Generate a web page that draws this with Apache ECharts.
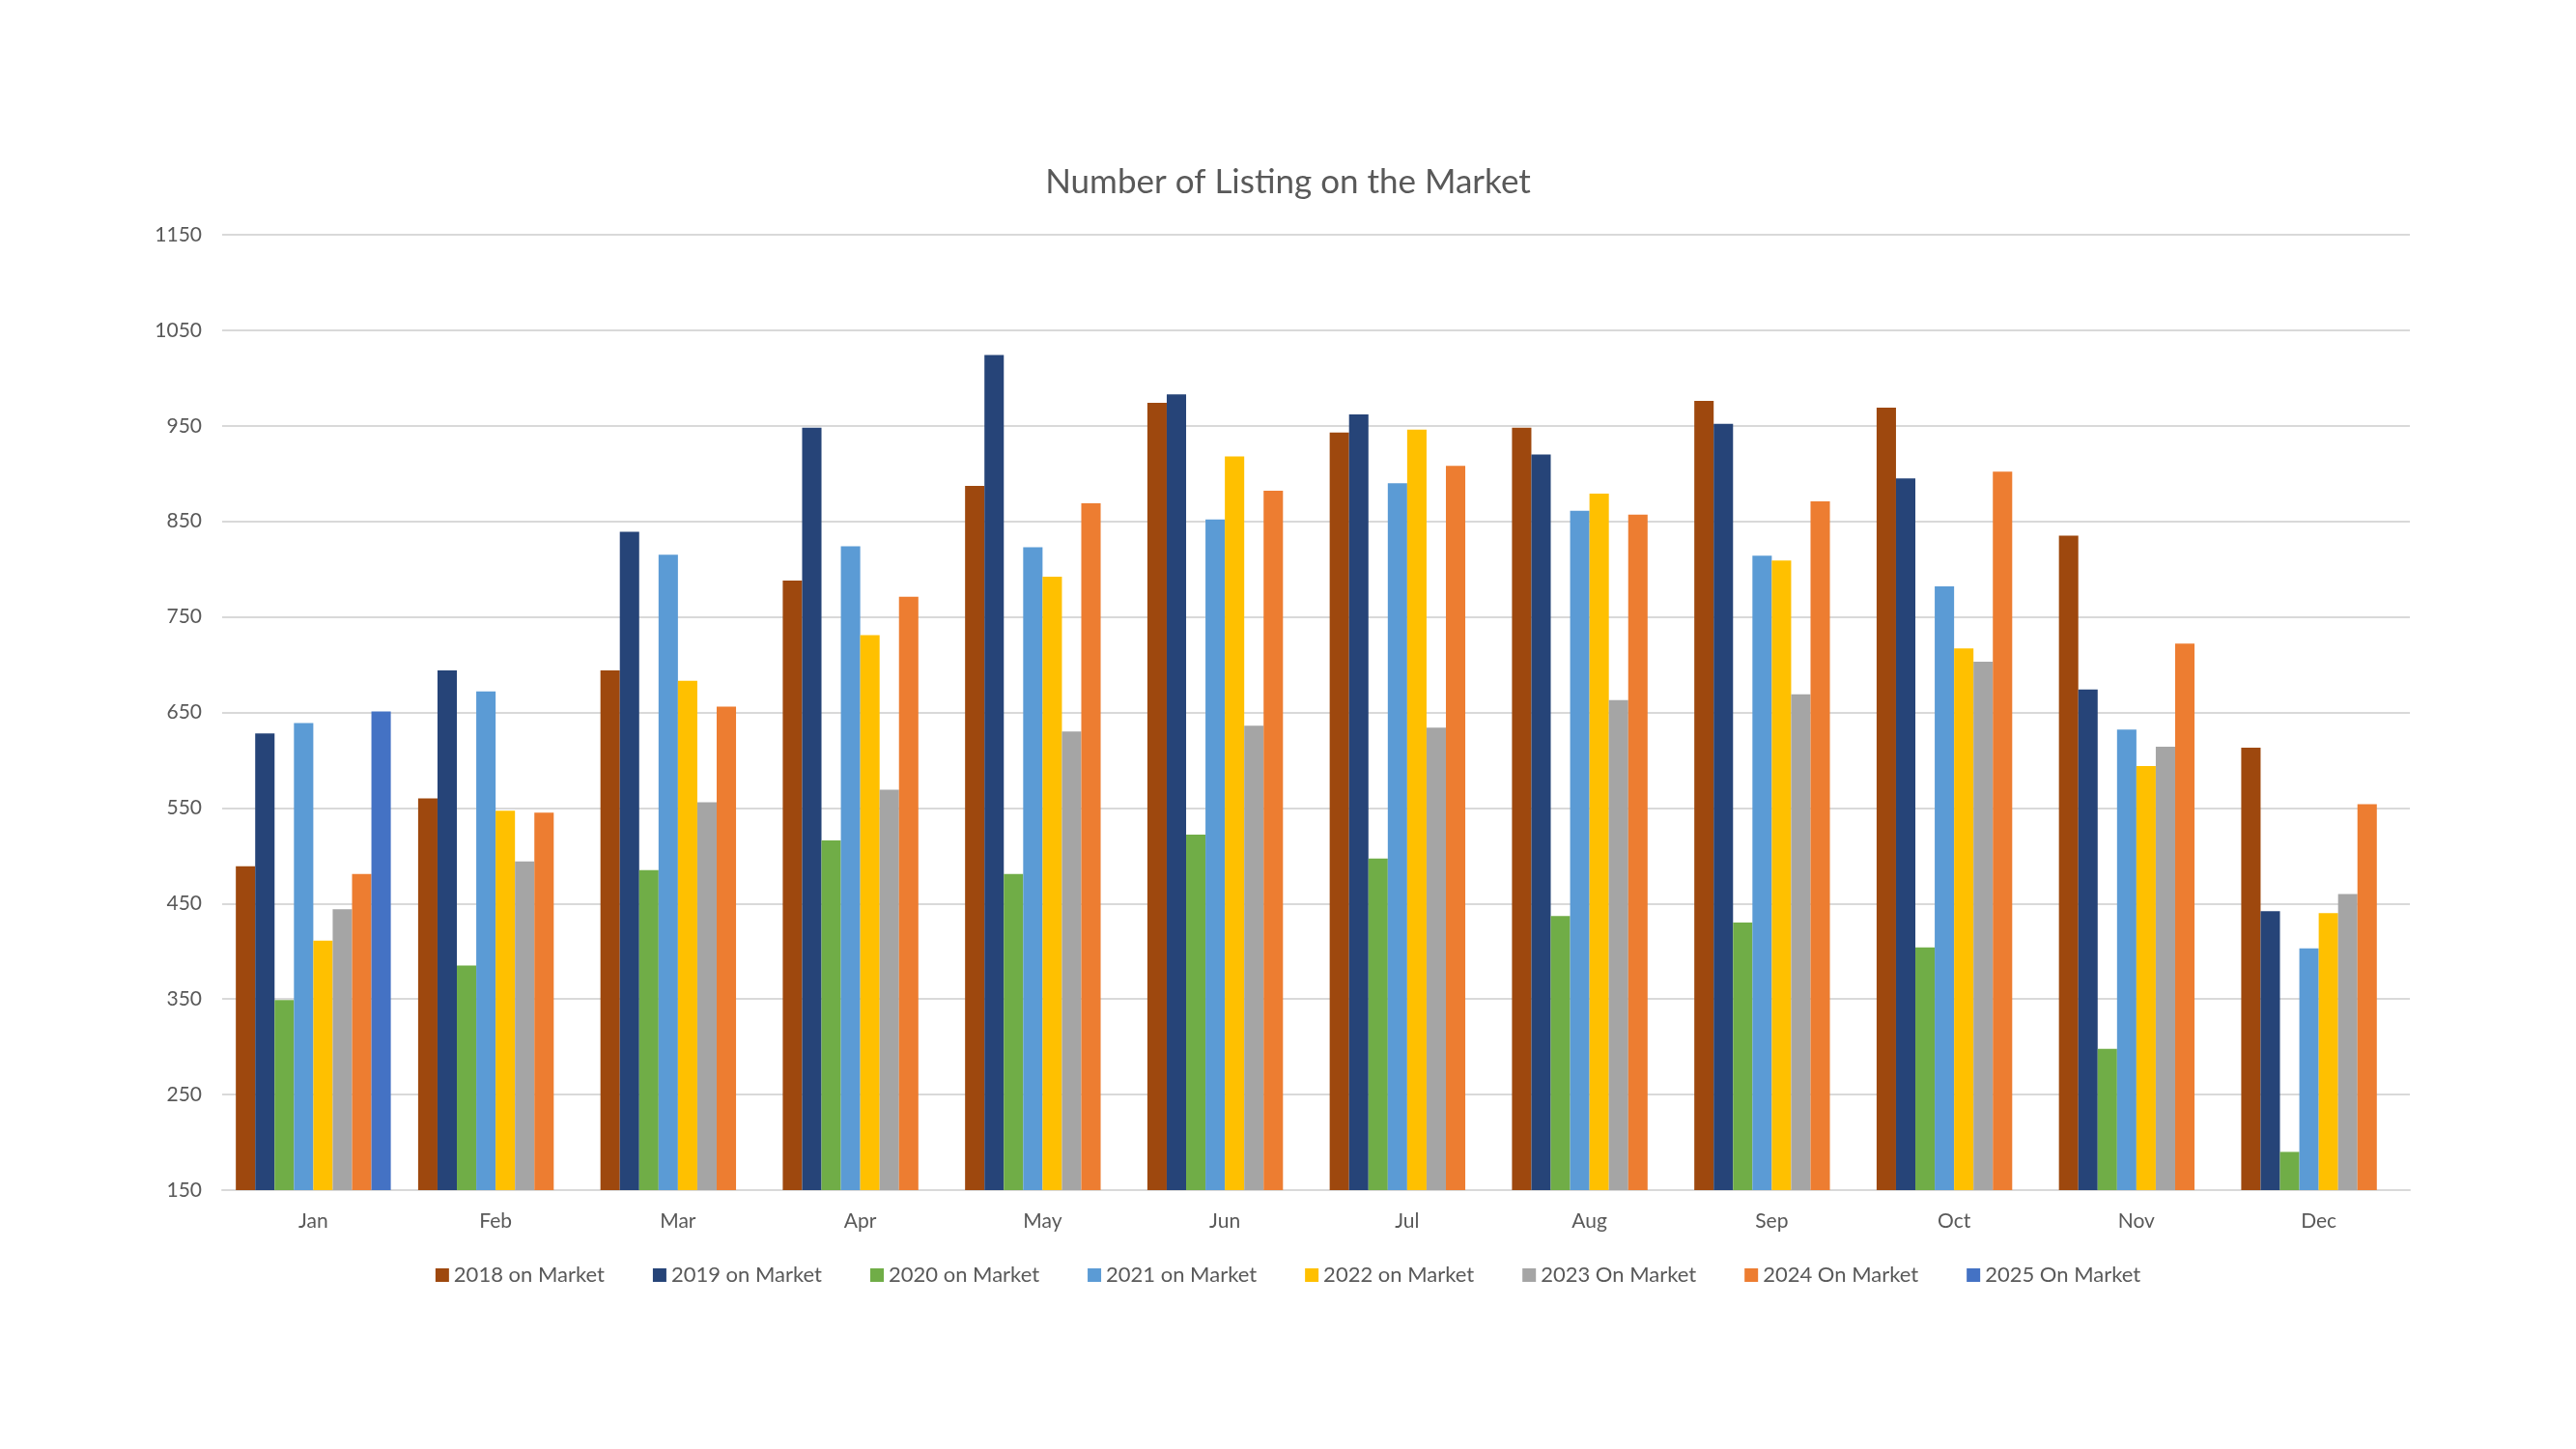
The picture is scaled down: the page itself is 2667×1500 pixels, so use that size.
<!DOCTYPE html>
<html>
<head>
<meta charset="utf-8">
<title>Number of Listing on the Market</title>
<script src="https://cdn.jsdelivr.net/npm/echarts@6/dist/echarts.min.js"></script>
<style>
html, body { margin: 0; padding: 0; background: #fff; }
#chart { width: 2667px; height: 1500px; }
</style>
</head>
<body>
<div id="chart"></div>
<script>
var months = ['Jan', 'Feb', 'Mar', 'Apr', 'May', 'Jun', 'Jul', 'Aug', 'Sep', 'Oct', 'Nov', 'Dec'];

// listings per month, one array per year
var y2018 = [489, 560, 694, 788, 887, 974, 943, 948, 976, 969, 835, 613];
var y2019 = [628, 694, 839, 948, 1024, 983, 962, 920, 952, 895, 674, 442];
var y2020 = [349, 385, 485, 516, 481, 522, 497, 437, 430, 404, 298, 190];
var y2021 = [639, 672, 815, 824, 823, 852, 890, 861, 814, 782, 632, 403];
var y2022 = [411, 547, 683, 731, 792, 918, 946, 879, 809, 717, 594, 440];
var y2023 = [444, 494, 556, 569, 630, 636, 634, 663, 669, 703, 614, 460];
var y2024 = [481, 545, 656, 771, 869, 882, 908, 857, 871, 902, 722, 554];
var y2025 = [651, null, null, null, null, null, null, null, null, null, null, null];

var seriesNames = ['2018 on Market', '2019 on Market', '2020 on Market', '2021 on Market',
                   '2022 on Market', '2023 On Market', '2024 On Market', '2025 On Market'];
var seriesData = [y2018, y2019, y2020, y2021, y2022, y2023, y2024, y2025];
var colors = ['#9E480E', '#264478', '#70AD47', '#5B9BD5', '#FFC000', '#A5A5A5', '#ED7D31', '#4472C4'];

// y axis ticks
var yMin = 150, yMax = 1150, yStep = 100;

var myChart = echarts.init(document.getElementById('chart'));

var series = [];
for (var i = 0; i < seriesData.length; i++) {
    series.push({
        name: seriesNames[i],
        type: 'bar',
        data: seriesData[i],
        barGap: '0%',
        barCategoryGap: '15%',
        itemStyle: { color: colors[i] }
    });
}

var font = 'Lato, "Open Sans", sans-serif';

var option = {
    backgroundColor: '#fff',
    color: colors,
    animation: false,
    title: {
        text: 'Number of Listing on the Market',
        left: 'center',
        top: 166,
        textStyle: {
            color: '#595959',
            fontFamily: font,
            fontWeight: 'normal',
            fontSize: 35
        }
    },
    legend: {
        data: seriesNames,
        bottom: 164,
        left: 'center',
        icon: 'rect',
        itemWidth: 14,
        itemHeight: 14,
        itemGap: 50,
        textStyle: {
            color: '#595959',
            fontFamily: font,
            fontSize: 22
        }
    },
    grid: {
        left: 230,
        right: 172,
        top: 243,
        bottom: 268,
        containLabel: false
    },
    xAxis: {
        type: 'category',
        data: months,
        axisLine: { lineStyle: { color: '#D9D9D9', width: 2 } },
        axisTick: { show: false },
        axisLabel: {
            color: '#595959',
            fontFamily: font,
            fontSize: 21,
            margin: 22
        }
    },
    yAxis: {
        type: 'value',
        min: yMin,
        max: yMax,
        interval: yStep,
        axisLine: { show: false },
        axisTick: { show: false },
        axisLabel: {
            color: '#595959',
            fontFamily: font,
            fontSize: 21,
            margin: 21,
            formatter: function (v) { return String(v); }
        },
        splitLine: { lineStyle: { color: '#D9D9D9', width: 2 } }
    },
    series: series
};

myChart.setOption(option);
window.addEventListener('resize', function () {
    myChart.resize();
});
</script>
</body>
</html>
